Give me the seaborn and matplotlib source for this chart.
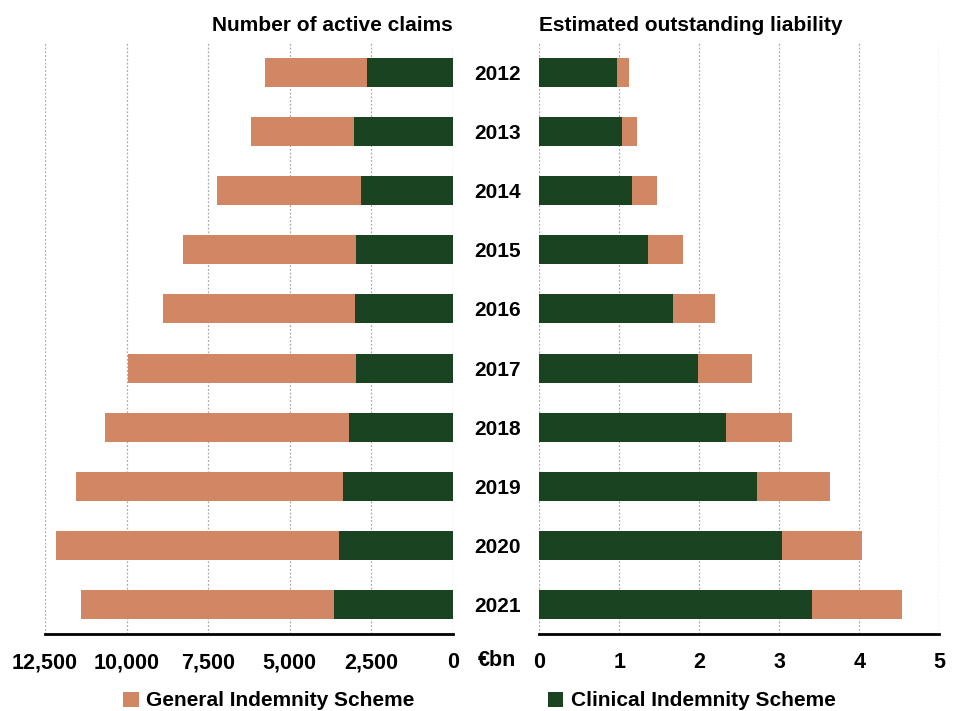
import matplotlib
matplotlib.use("Agg")
import matplotlib.pyplot as plt
from matplotlib.patches import Patch
import seaborn as sns
import pandas as pd

years = ["2012", "2013", "2014", "2015", "2016", "2017", "2018", "2019", "2020", "2021"]
claims_cis = [2640, 3040, 2830, 2980, 3010, 2960, 3200, 3360, 3490, 3630]
claims_gis = [3110, 3140, 4390, 5280, 5870, 7000, 7450, 8200, 8670, 7770]
liab_cis = [0.97, 1.03, 1.16, 1.36, 1.67, 1.98, 2.33, 2.72, 3.03, 3.41]
liab_gis = [0.15, 0.19, 0.31, 0.44, 0.53, 0.68, 0.83, 0.92, 1.00, 1.13]
left_ticks = [12500, 10000, 7500, 5000, 2500, 0]
left_ticklabels = ["12,500", "10,000", "7,500", "5,000", "2,500", "0"]
right_ticks = [0, 1, 2, 3, 4, 5]
series_names = ["General Indemnity Scheme", "Clinical Indemnity Scheme"]

ORANGE = "#D28764"
GREEN = "#1A4321"

sns.set_style("white")
plt.rcParams["font.family"] = ["Liberation Sans", "DejaVu Sans"]
plt.rcParams["font.weight"] = "bold"
plt.rcParams["text.color"] = "black"
plt.rcParams["xtick.color"] = "black"
plt.rcParams["ytick.color"] = "black"
plt.rcParams["axes.labelcolor"] = "black"

df = pd.DataFrame({
    "year": years,
    "claims_total": [a + b for a, b in zip(claims_cis, claims_gis)],
    "claims_cis": claims_cis,
    "liab_total": [a + b for a, b in zip(liab_cis, liab_gis)],
    "liab_cis": liab_cis,
})

fig = plt.figure(figsize=(9.55, 7.11), dpi=100)
axL = fig.add_axes([0.0471, 0.1083, 0.4272, 0.8312])
axR = fig.add_axes([0.5647, 0.1083, 0.4188, 0.8312])

sns.barplot(data=df, x="claims_total", y="year", orient="h", color=ORANGE,
            saturation=1, width=0.49, ax=axL, linewidth=0)
sns.barplot(data=df, x="claims_cis", y="year", orient="h", color=GREEN,
            saturation=1, width=0.49, ax=axL, linewidth=0)
sns.barplot(data=df, x="liab_total", y="year", orient="h", color=ORANGE,
            saturation=1, width=0.49, ax=axR, linewidth=0)
sns.barplot(data=df, x="liab_cis", y="year", orient="h", color=GREEN,
            saturation=1, width=0.49, ax=axR, linewidth=0)

for ax in (axL, axR):
    ax.set_xlabel("")
    ax.set_ylabel("")
    ax.set_ylim(9.5, -0.5)
    for s in ("top", "left", "right"):
        ax.spines[s].set_visible(False)
    ax.spines["bottom"].set_color("black")
    ax.spines["bottom"].set_linewidth(2)
    ax.grid(axis="x", linestyle=(0, (1.5, 1.5)), color="#aaaaaa", linewidth=0.9)
    ax.set_axisbelow(True)
    ax.tick_params(axis="x", direction="out", length=6, width=2, color="black",
                   labelcolor="black", pad=7, labelsize=15.5)

axL.set_xlim(12500, 0)
axL.set_xticks(left_ticks)
axL.set_xticklabels(left_ticklabels, fontweight="bold")
axL.set_yticks([])
axL.set_title("Number of active claims", loc="right", fontsize=15,
              fontweight="bold", pad=9, color="black")

axR.set_xlim(0, 5)
axR.set_xticks(right_ticks)
axR.set_xticklabels([str(t) for t in right_ticks], fontweight="bold")
axR.tick_params(axis="y", length=0, pad=30, labelsize=15, labelcolor="black")
for lab in axR.get_yticklabels():
    lab.set_fontweight("bold")
    lab.set_horizontalalignment("center")
axR.set_title("Estimated outstanding liability", loc="left", fontsize=15,
              fontweight="bold", pad=9, color="black")

fig.text(497 / 955, 1 - 660 / 711, "€bn", ha="center", va="center",
         fontsize=15.5, fontweight="bold", color="black")

handles = [Patch(facecolor=ORANGE, edgecolor="none"),
           Patch(facecolor=GREEN, edgecolor="none")]
fig.legend(handles, series_names, loc="center", ncol=2,
           bbox_to_anchor=(0.502, 1 - 701 / 711), frameon=False,
           prop={"weight": "bold", "size": 15}, handlelength=0.75,
           handleheight=0.75, handletextpad=0.35, columnspacing=6.4)

fig.savefig("out.png", dpi=100)
